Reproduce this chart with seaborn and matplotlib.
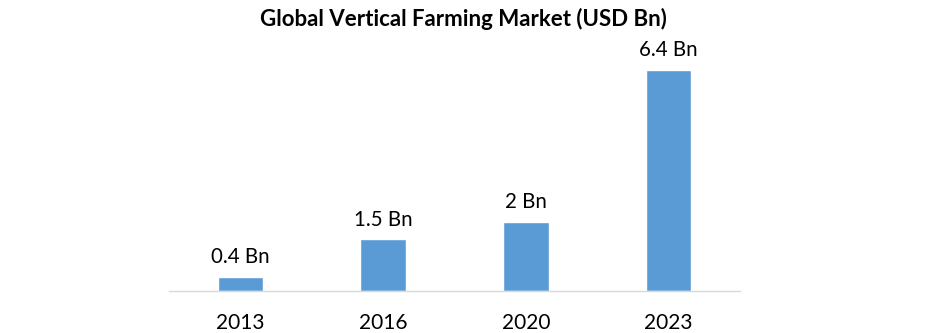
import matplotlib
matplotlib.use("Agg")
import matplotlib.pyplot as plt
import seaborn as sns
import pandas as pd

years = ["2013", "2016", "2020", "2023"]
values = [0.4, 1.5, 2.0, 6.4]
labels = ["0.4 Bn", "1.5 Bn", "2 Bn", "6.4 Bn"]
title = "Global Vertical Farming Market (USD Bn)"

sns.set_theme(style="white")
plt.rcParams["font.family"] = ["Lato", "DejaVu Sans"]

df = pd.DataFrame({"year": years, "value": values})

fig = plt.figure(figsize=(9.27, 3.33), dpi=100)
ax = fig.add_axes([169 / 927, 1 - 291 / 333, (740 - 169) / 927, (291 - 45) / 333])
sns.barplot(data=df, x="year", y="value", color="#5B9BD5", width=0.32, ax=ax, saturation=1)
ax.set_ylim(0, 246 / 34.5)
ax.set_xlim(-0.5, 3.5)
for i, (v, lab) in enumerate(zip(values, labels)):
    ax.annotate(lab, (i, v), xytext=(0, 7), textcoords="offset points",
                ha="center", va="bottom", fontsize=14.8, color="#000000")
for s in ["top", "right", "left"]:
    ax.spines[s].set_visible(False)
ax.spines["bottom"].set_color("#D9D9D9")
ax.spines["bottom"].set_linewidth(1)
ax.set_yticks([])
ax.set_xlabel("")
ax.set_ylabel("")
ax.tick_params(axis="x", length=0, pad=16, labelsize=15, labelcolor="#000000")
fig.text(0.5, 1 - 19 / 333, title, ha="center", va="center", fontsize=16, fontweight="bold", color="#000000")
fig.savefig("out.png", dpi=100, facecolor="white")
